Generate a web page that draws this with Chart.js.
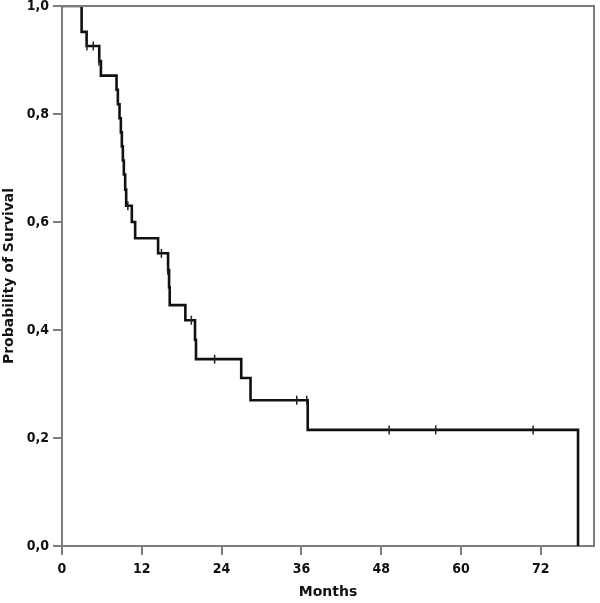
<!DOCTYPE html>
<html>
<head>
<meta charset="utf-8">
<script src="https://cdn.jsdelivr.net/npm/chart.js@4/dist/chart.umd.min.js"></script>
<style>
html,body{margin:0;padding:0;background:#fff;}
#wrap{width:600px;height:603px;position:relative;}
</style>
</head>
<body>
<div id="wrap"><canvas id="c" width="600" height="603"></canvas></div>
<script>
// Kaplan-Meier step curve: month of each drop and survival after it
const months = [0, 2.95, 3.7, 5.6, 5.85, 8.2, 8.4, 8.65, 8.85, 9.0, 9.15, 9.3, 9.5, 9.65, 10.5, 11.0, 14.45, 15.95, 16.1, 16.2, 18.55, 20.0, 20.15, 26.95, 28.35, 36.95, 77.6];
const survival = [1.0, 0.952, 0.926, 0.898, 0.871, 0.845, 0.818, 0.792, 0.766, 0.740, 0.714, 0.688, 0.660, 0.630, 0.600, 0.570, 0.542, 0.511, 0.479, 0.446, 0.418, 0.382, 0.346, 0.311, 0.270, 0.215, 0.0];
// Censored observations
const censorMonths = [3.75, 4.7, 5.55, 9.9, 14.95, 15.9, 19.45, 22.95, 35.3, 36.8, 49.2, 56.2, 70.85];
const censorSurvival = [0.926, 0.926, 0.898, 0.630, 0.542, 0.511, 0.418, 0.346, 0.270, 0.270, 0.215, 0.215, 0.215];
// Axis ticks and titles
const xTicks = [0, 12, 24, 36, 48, 60, 72];
const yTicks = [0, 0.2, 0.4, 0.6, 0.8, 1.0];
const xTitle = 'Months';
const yTitle = 'Probability of Survival';

const curve = months.map((m, i) => ({x: m, y: survival[i]}));
const censors = censorMonths.map((m, i) => ({x: m, y: censorSurvival[i]}));

const frameColor = '#7d7d7d';
const tickFont = {family: "'DejaVu Sans Condensed', 'Liberation Sans Narrow', 'DejaVu Sans', sans-serif", size: 14, weight: 'bold'};
const titleFont = {family: "'DejaVu Sans', sans-serif", size: 14, weight: 'bold'};

const framePlugin = {
  id: 'frame',
  afterDraw(chart) {
    const a = chart.chartArea, ctx = chart.ctx;
    ctx.save();
    ctx.strokeStyle = frameColor;
    ctx.lineWidth = 2;
    ctx.beginPath();
    ctx.moveTo(a.left, a.top);
    ctx.lineTo(a.right, a.top);
    ctx.lineTo(a.right, a.bottom);
    ctx.stroke();
    ctx.restore();
  }
};

new Chart(document.getElementById('c'), {
  type: 'line',
  data: {
    datasets: [
      {
        data: curve,
        stepped: true,
        borderColor: '#111',
        borderWidth: 2.6,
        pointRadius: 0,
        fill: false,
        order: 2
      },
      {
        type: 'scatter',
        data: censors,
        showLine: false,
        pointStyle: 'line',
        rotation: 90,
        radius: 4.5,
        borderColor: '#222',
        borderWidth: 1.5,
        backgroundColor: '#222',
        order: 1
      }
    ]
  },
  options: {
    responsive: false,
    animation: false,
    devicePixelRatio: 1,
    layout: {padding: {top: 5, right: 4, left: 0, bottom: 0}},
    plugins: {legend: {display: false}, tooltip: {enabled: false}},
    scales: {
      x: {
        type: 'linear',
        min: 0,
        max: 80,
        afterBuildTicks(scale) { scale.ticks = xTicks.map(v => ({value: v})); },
        afterFit(scale) { scale.height = 57; scale.paddingRight = 0; scale.paddingLeft = 0; },
        grid: {drawOnChartArea: false, drawTicks: true, tickLength: 9, color: frameColor, lineWidth: 2},
        border: {display: true, color: frameColor, width: 2},
        ticks: {color: '#111', font: tickFont, padding: 6, maxRotation: 0},
        title: {display: true, text: xTitle, color: '#111', font: titleFont, padding: {top: 0, bottom: 2}}
      },
      y: {
        type: 'linear',
        min: 0,
        max: 1,
        afterBuildTicks(scale) { scale.ticks = yTicks.map(v => ({value: v})); },
        afterFit(scale) { scale.width = 62; scale.paddingTop = 0; scale.paddingBottom = 0; },
        grid: {drawOnChartArea: false, drawTicks: true, tickLength: 9, color: frameColor, lineWidth: 2},
        border: {display: true, color: frameColor, width: 2},
        ticks: {color: '#111', font: tickFont, padding: 4, callback: v => v.toFixed(1).replace('.', ',')},
        title: {display: true, text: yTitle, color: '#111', font: titleFont, padding: {top: 1, bottom: 0}}
      }
    }
  },
  plugins: [framePlugin]
});
</script>
</body>
</html>
